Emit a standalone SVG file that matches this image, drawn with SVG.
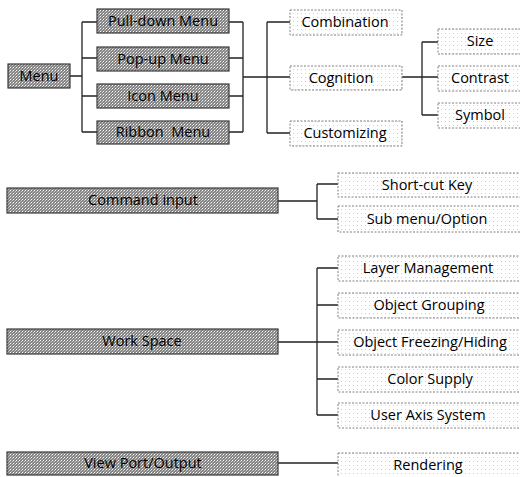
<svg xmlns="http://www.w3.org/2000/svg" width="520" height="477" viewBox="0 0 520 477">
  <defs>
    <!-- halftone screen for the main category boxes -->
    <pattern id="screen-dark" width="3" height="3" patternUnits="userSpaceOnUse">
      <rect width="3" height="3" fill="#858585"/>
      <rect x="1" y="1" width="1" height="1" fill="#ffffff"/>
      <rect x="0" y="2" width="1" height="1" fill="#cfcfcf"/>
      <rect x="2" y="0" width="1" height="1" fill="#b0b0b0"/>
    </pattern>
    <!-- sparse dot screen for the sub-item boxes -->
    <pattern id="screen-light" width="4" height="4" patternUnits="userSpaceOnUse">
      <rect width="4" height="4" fill="#ffffff"/>
      <rect x="1" y="1" width="1" height="1" fill="#cfcfcf"/>
    </pattern>
  </defs>
  <style>
    .main { fill: url(#screen-dark); stroke: #3a3a3a; stroke-width: 1.2; }
    .sub { fill: url(#screen-light); stroke: #808080; stroke-width: 1; stroke-dasharray: 2 1.5; }
    .label { font-family: "Open Sans", "Noto Sans", "DejaVu Sans", sans-serif; font-size: 14.5px; fill: #000; text-anchor: middle; white-space: pre; }
    .link { fill: none; stroke: #222; stroke-width: 1.3; }
  </style>

  <!-- connectors -->
  <g id="connectors" class="link">
    <!-- Menu to menu types -->
    <path d="M70,76 H82 M82,22 V132 M82,22 H97 M82,58 H97 M82,96 H97 M82,132 H97"/>
    <!-- menu types to menu aspects -->
    <path d="M229,22 H243 M229,58 H243 M229,96 H243 M229,132 H243 M243,22 V132 M243,77 H290 M267,22 V133 M267,22 H290 M267,133 H290"/>
    <!-- Cognition to its factors -->
    <path d="M402,77 H438 M422,42 V115 M422,42 H438 M422,115 H438"/>
    <!-- Command input -->
    <path d="M278,201 H317 M317,184 V219 M317,184 H338 M317,219 H338"/>
    <!-- Work Space -->
    <path d="M278,342 H338 M317,268 V415 M317,268 H338 M317,305 H338 M317,379 H338 M317,415 H338"/>
    <!-- View Port/Output -->
    <path d="M278,463 H338"/>
  </g>

  <!-- Menu branch -->
  <g id="menu"><rect class="main" x="8" y="64" width="62" height="24"/><text class="label" x="39" y="81">Menu</text></g>
  <g id="pull-down-menu"><rect class="main" x="97" y="9" width="132" height="24"/><text class="label" x="163" y="26">Pull-down Menu</text></g>
  <g id="pop-up-menu"><rect class="main" x="97" y="47" width="132" height="24"/><text class="label" x="163" y="64">Pop-up Menu</text></g>
  <g id="icon-menu"><rect class="main" x="97" y="84" width="132" height="24"/><text class="label" x="163" y="101">Icon Menu</text></g>
  <g id="ribbon-menu"><rect class="main" x="97" y="121" width="132" height="23"/><text class="label" x="163" y="137">Ribbon  Menu</text></g>

  <g id="combination"><rect class="sub" x="290" y="10" width="112" height="25"/><text class="label" x="345" y="27">Combination</text></g>
  <g id="cognition"><rect class="sub" x="290" y="66" width="112" height="24"/><text class="label" x="341" y="83">Cognition</text></g>
  <g id="customizing"><rect class="sub" x="290" y="121" width="112" height="25"/><text class="label" x="345" y="138">Customizing</text></g>

  <g id="size"><rect class="sub" x="438" y="29" width="90" height="25"/><text class="label" x="480" y="46">Size</text></g>
  <g id="contrast"><rect class="sub" x="438" y="66" width="90" height="25"/><text class="label" x="480" y="83">Contrast</text></g>
  <g id="symbol"><rect class="sub" x="438" y="103" width="90" height="25"/><text class="label" x="480" y="120">Symbol</text></g>

  <!-- Command input branch -->
  <g id="command-input"><rect class="main" x="7" y="188" width="271" height="25"/><text class="label" x="143" y="205">Command input</text></g>
  <g id="short-cut-key"><rect class="sub" x="338" y="173" width="190" height="24"/><text class="label" x="427" y="190">Short-cut Key</text></g>
  <g id="sub-menu-option"><rect class="sub" x="338" y="206" width="190" height="26"/><text class="label" x="427" y="224">Sub menu/Option</text></g>

  <!-- Work Space branch -->
  <g id="work-space"><rect class="main" x="7" y="329" width="271" height="25"/><text class="label" x="142" y="346">Work Space</text></g>
  <g id="layer-management"><rect class="sub" x="338" y="256" width="190" height="25"/><text class="label" x="428" y="273">Layer Management</text></g>
  <g id="object-grouping"><rect class="sub" x="338" y="293" width="190" height="25"/><text class="label" x="429" y="310">Object Grouping</text></g>
  <g id="object-freezing-hiding"><rect class="sub" x="338" y="330" width="190" height="25"/><text class="label" x="430" y="347">Object Freezing/Hiding</text></g>
  <g id="color-supply"><rect class="sub" x="338" y="367" width="190" height="25"/><text class="label" x="430" y="384">Color Supply</text></g>
  <g id="user-axis-system"><rect class="sub" x="338" y="403" width="190" height="25"/><text class="label" x="428" y="420">User Axis System</text></g>

  <!-- View Port/Output branch -->
  <g id="view-port-output"><rect class="main" x="7" y="452" width="271" height="23"/><text class="label" x="143" y="468">View Port/Output</text></g>
  <g id="rendering"><rect class="sub" x="338" y="453" width="190" height="26"/><text class="label" x="428" y="470">Rendering</text></g>
</svg>
